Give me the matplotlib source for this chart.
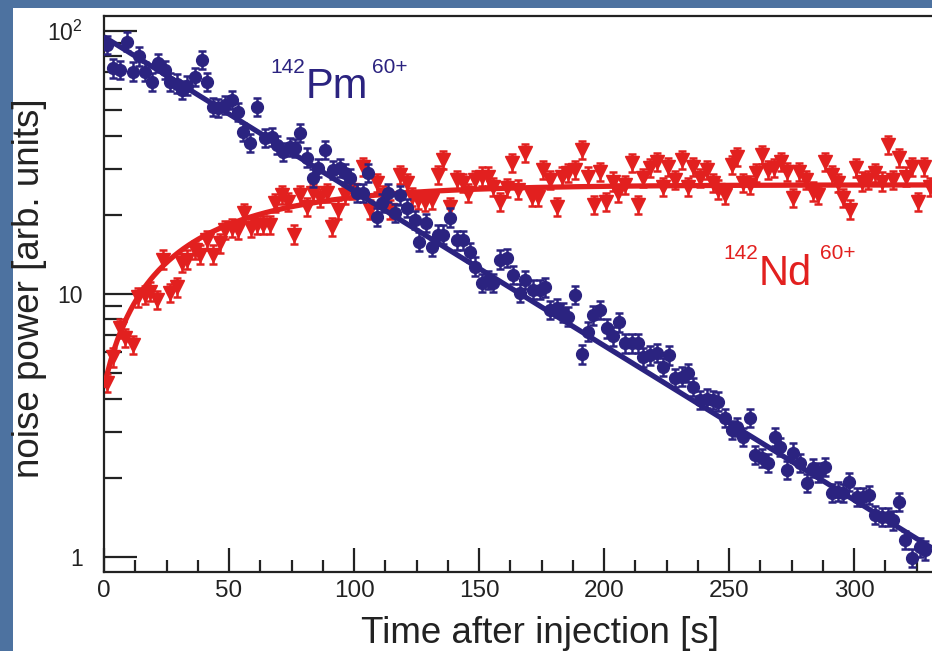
import numpy as np
import matplotlib
matplotlib.use("Agg")
import matplotlib.pyplot as plt
from matplotlib.patches import Rectangle
from matplotlib.ticker import MultipleLocator, FixedLocator, NullFormatter

plt.rcParams['font.family'] = ['Liberation Sans', 'DejaVu Sans']
plt.rcParams['mathtext.fontset'] = 'custom'
plt.rcParams['mathtext.rm'] = 'Liberation Sans'

# ---------------- data ----------------
pm_time = [1.1, 3.7, 6.4, 9.0, 11.6, 14.0, 16.4, 19.0, 21.6, 24.4, 26.4, 29.0, 31.0, 33.0,
           36.4, 39.0, 41.0, 43.7, 45.7, 48.4, 51.0, 53.7, 55.7, 58.4, 61.0, 64.4, 67.0,
           69.0, 71.7, 74.4, 76.4, 78.4, 81.0, 83.7, 85.7, 88.4, 91.7, 94.4, 96.4, 98.4,
           101.0, 103.7, 105.7, 109.0, 111.0, 113.7, 116.4, 118.4, 121.0, 124.4, 126.0,
           128.8, 131.0, 133.4, 135.7, 138.4, 141.0, 143.7, 146.4, 148.4, 151.0, 153.7,
           155.7, 158.4, 161.0, 163.7, 166.4, 168.4, 171.7, 174.4, 176.4, 178.4, 181.0,
           183.7, 185.7, 188.4, 191.0, 193.4, 195.7, 198.4, 201.0, 203.7, 206.0, 208.4,
           211.0, 213.4, 215.7, 218.4, 221.0, 223.7, 226.0, 228.4, 231.0, 233.7, 235.7,
           238.4, 241.0, 243.7, 245.7, 248.4, 251.0, 253.2, 255.7, 258.4, 260.4, 263.0,
           265.7, 268.4, 270.4, 273.0, 275.7, 278.4, 281.0, 283.4, 285.7, 288.4, 291.0,
           293.7, 295.7, 298.0, 301.0, 303.7, 306.0, 308.4, 311.0, 313.7, 315.7, 318.0,
           320.4, 323.0, 326.4, 328.4]
pm_power = [88.5, 72, 71, 91, 70, 80, 70, 64, 75.5, 71, 64, 63, 59.7, 62,
            66.8, 77.6, 64, 51.4, 51, 52.3, 54.7, 49.2, 41.3, 37.5, 51.4, 39.2, 39.5,
            36.9, 34.7, 36.2, 35.9, 40.9, 33.0, 27.6, 30.1, 35.3, 29.6, 30.1, 28.8, 27.6,
            24.2, 24.2, 28.8, 19.6, 22.2, 24.2, 20.3, 23.7, 21.2, 19.1, 15.8,
            18.6, 15.1, 16.8, 16.8, 19.5, 16.0, 16.0, 14.4, 12.7, 11.0, 11.3,
            11.0, 13.5, 13.7, 11.8, 10.1, 11.3, 10.4, 10.4, 10.6, 8.7, 8.85,
            8.5, 8.2, 9.9, 5.9, 7.2, 8.3, 8.7, 7.4, 6.9, 7.8, 6.5,
            6.5, 6.5, 5.75, 5.85, 5.97, 5.28, 5.85, 4.8, 4.85, 5.0, 4.43,
            3.95, 4.0, 3.95, 3.9, 3.38, 3.04, 3.12, 2.86, 3.38, 2.44, 2.38,
            2.28, 2.86, 2.62, 2.14, 2.49, 2.28, 1.91, 2.18, 2.09, 2.2, 1.75,
            1.77, 1.75, 1.93, 1.69, 1.69, 1.72, 1.445, 1.42, 1.42, 1.38, 1.62,
            1.16, 0.99, 1.09, 1.06]

nd_time = [1.1, 3.7, 6.4, 8.4, 11.6, 13.7, 16.4, 18.4, 21.0, 23.7, 26.4, 29.0, 31.0, 33.0,
           36.4, 38.4, 41.0, 43.7, 46.4, 48.4, 51.0, 53.7, 56.0, 58.7, 61.0, 63.7, 66.4,
           68.4, 71.0, 73.4, 76.0, 78.4, 81.0, 83.7, 86.4, 89.0, 91.0, 93.7, 96.4, 99.0,
           103.7, 106.4, 109.0, 111.7, 114.4, 118.4, 121.0, 123.2, 125.7, 128.4, 131.0,
           133.4, 135.7, 138.4, 141.0, 143.7, 145.7, 148.4, 151.0, 153.7, 155.7, 158.4,
           161.0, 163.2, 165.7, 168.4, 171.0, 173.7, 175.7, 178.4, 181.0, 183.0, 185.7,
           188.4, 191.0, 193.4, 196.0, 198.4, 200.8, 203.4, 205.7, 208.4, 211.0, 213.4,
           215.7, 218.4, 221.0, 223.7, 225.7, 228.4, 231.0, 233.7, 235.7, 238.4, 241.0,
           243.7, 245.7, 248.4, 251.0, 253.2, 255.7, 258.4, 260.8, 263.0, 265.7, 268.0,
           270.7, 273.0, 275.7, 278.0, 280.8, 283.4, 285.7, 288.4, 291.0, 293.4, 295.7,
           298.4, 300.8, 303.0, 305.7, 308.4, 311.0, 313.4, 315.7, 318.0, 320.8, 323.2,
           325.7, 328.0, 330.4]
nd_power = [4.59, 5.75, 7.4, 6.8, 6.4, 9.7, 9.9, 10.2, 9.5, 13.5, 10.1, 10.6, 13.1, 13.5,
            14.7, 14.1, 16.0, 14.1, 15.6, 17.5, 17.8, 17.5, 20.3, 17.8, 18.3, 18.3, 18.3,
            22.2, 23.8, 22.4, 16.8, 23.8, 21.4, 24.2, 23.2, 24.2, 18.0, 20.9, 23.8, 24.9,
            30.4, 20.9, 26.4, 23.8, 20.9, 28.3, 26.4, 23.4, 22.8, 22.4, 22.8,
            28.3, 32.3, 21.4, 27.1, 26.4, 24.2, 27.1, 27.9, 27.9, 25.5, 22.4,
            25.3, 31.5, 24.9, 34.4, 23.4, 23.4, 29.6, 27.1, 21.4, 27.9, 28.8,
            29.6, 35.3, 27.9, 21.8, 29.1, 22.4, 26.7, 24.2, 26.0, 31.5, 21.8,
            27.6, 30.1, 31.8, 25.5, 30.4, 27.1, 32.3, 25.5, 30.4, 27.6, 29.6,
            26.4, 24.9, 23.8, 30.9, 33.2, 26.4, 26.0, 28.8, 33.8, 29.6, 30.1,
            31.8, 29.1, 23.2, 29.1, 27.1, 24.5, 23.8, 31.8, 28.3, 26.4, 23.2,
            20.9, 30.1, 26.7, 27.1, 28.8, 26.7, 36.9, 27.1, 32.9, 27.9, 30.4,
            22.4, 30.4, 25.5]

# relative error-bar size (multiplicative)
err_factor = 1.085

# fit parameters
pm_fit_n0, pm_fit_tau = 95.0, 74.0
nd_fit_start, nd_fit_sat, nd_fit_tau = 4.4, 26.0, 48.0

x_ticks = [0, 50, 100, 150, 200, 250, 300]
y_ticks = [1, 10, 100]
y_tick_labels = ['1', '10', r'$10^{2}$']

# ---------------- style ----------------
W, H = 932, 651
BLUE = '#2b2380'
RED = '#e2201f'
BG = '#4d72a0'

fig = plt.figure(figsize=(W / 100, H / 100), dpi=100, facecolor=BG)
fig.patches.append(Rectangle((13 / W, 0), 1, (H - 8) / H, transform=fig.transFigure,
                             facecolor='white', edgecolor='none', zorder=-10))

ax = fig.add_axes([104 / W, (H - 571.5) / H, 1 - 104 / W, (571.5 - 16) / H])
ax.set_zorder(1)
ax.set_facecolor('white')
ax.set_yscale('log')
ax.set_xlim(0, 331.2)
ax.set_ylim(0.881, 114)

pm_t = np.array(pm_time)
pm_v = np.array(pm_power)
nd_t = np.array(nd_time)
nd_v = np.array(nd_power)

t_fit = np.linspace(0, 331.2, 500)
pm_curve = pm_fit_n0 * np.exp(-t_fit / pm_fit_tau)
nd_curve = nd_fit_sat - (nd_fit_sat - nd_fit_start) * np.exp(-t_fit / nd_fit_tau)

ax.errorbar(nd_t, nd_v, yerr=[nd_v * (1 - 1 / err_factor), nd_v * (err_factor - 1)],
            fmt='v', ms=10, color=RED, ecolor=RED, elinewidth=1.8, capsize=2.8,
            capthick=1.8, zorder=2)
ax.plot(t_fit, nd_curve, color=RED, lw=3.8, zorder=3, solid_capstyle='butt')
ax.errorbar(pm_t, pm_v, yerr=[pm_v * (1 - 1 / err_factor), pm_v * (err_factor - 1)],
            fmt='o', ms=8.5, color=BLUE, ecolor=BLUE, elinewidth=1.8, capsize=2.8,
            capthick=1.8, zorder=4)
ax.plot(t_fit, pm_curve, color=BLUE, lw=3.8, zorder=5, solid_capstyle='butt')

for s in ['left', 'bottom', 'top']:
    ax.spines[s].set_linewidth(1.6)
    ax.spines[s].set_color('#222222')
ax.spines['right'].set_visible(False)

ax.xaxis.set_major_locator(FixedLocator(x_ticks))
ax.xaxis.set_minor_locator(MultipleLocator(12.5))
ax.yaxis.set_major_locator(FixedLocator(y_ticks))
ax.set_yticklabels(y_tick_labels)
ax.yaxis.set_minor_locator(FixedLocator([m * 10 ** e for e in (0, 1) for m in range(2, 10)]))
ax.yaxis.set_minor_formatter(NullFormatter())

ax.tick_params(axis='x', which='major', direction='in', length=17, width=1.6,
               labelsize=17.5, pad=6, colors='#222222', top=False)
ax.tick_params(axis='x', which='minor', direction='in', length=9, width=1.6,
               colors='#222222', top=False)
ax.tick_params(axis='y', which='major', direction='in', length=24, width=1.6,
               labelsize=16.5, pad=15, colors='#222222', right=False)
ax.tick_params(axis='y', which='minor', direction='in', length=13, width=1.6,
               colors='#222222', right=False)

# axis labels
fig.text(540 / W, (H - 643) / H, 'Time after injection [s]', ha='center', va='baseline',
         fontsize=26.5, color='#222222')
fig.text(30 / W, (H - 288) / H, 'noise power [arb. units]', ha='center', va='center',
         rotation=90, fontsize=26.5, color='#222222')

# isotope annotations
def iso(x_sup, x_main, x_sup2, y_base, y_sup, main, color):
    fig.text(x_sup / W, (H - y_sup) / H, '142', fontsize=15, color=color, va='baseline')
    fig.text(x_main / W, (H - y_base) / H, main, fontsize=30, color=color, va='baseline')
    fig.text(x_sup2 / W, (H - y_sup) / H, '60+', fontsize=15, color=color, va='baseline')

iso(270, 306, 372, 98, 73, 'Pm', BLUE)
iso(723, 759, 820, 285, 259, 'Nd', RED)

fig.savefig('out.png', dpi=100, facecolor=BG)
